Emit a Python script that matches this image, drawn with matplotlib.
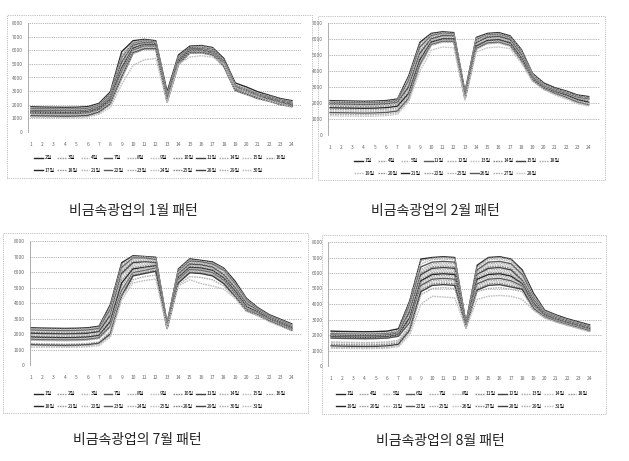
import matplotlib
matplotlib.use("Agg")
import matplotlib.pyplot as plt
from matplotlib.patches import Rectangle

plt.rcParams['font.family'] = ['Noto Sans CJK KR', 'DejaVu Sans']

hours = list(range(1, 25))

# --- January ---
jan_days = [2, 3, 4, 7, 8, 9, 10, 11, 14, 15, 16, 17, 18, 21, 22, 23, 24, 25, 28, 29, 30]
jan_load = [
    [1850, 1830, 1820, 1810, 1820, 1860, 2100, 2950, 5900, 6700, 6800, 6700, 2950, 5650, 6300, 6350, 6200, 5400, 3600, 3300, 2950, 2700, 2450, 2300],
    [1780, 1760, 1750, 1740, 1750, 1790, 2030, 2850, 5650, 6600, 6750, 6650, 2800, 5550, 6250, 6300, 6150, 5300, 3500, 3200, 2850, 2650, 2400, 2250],
    [1720, 1700, 1690, 1690, 1700, 1740, 1990, 2800, 5500, 6550, 6700, 6600, 2700, 5500, 6200, 6250, 6100, 5250, 3450, 3150, 2800, 2600, 2350, 2200],
    [1700, 1690, 1680, 1670, 1680, 1720, 1960, 2750, 5450, 6500, 6680, 6580, 2650, 5450, 6200, 6200, 6050, 5200, 3400, 3100, 2780, 2580, 2330, 2180],
    [1660, 1650, 1630, 1630, 1640, 1680, 1920, 2700, 5400, 6480, 6650, 6550, 2600, 5400, 6150, 6180, 6000, 5150, 3380, 3080, 2750, 2550, 2300, 2150],
    [1640, 1620, 1610, 1600, 1610, 1650, 1890, 2650, 5300, 6420, 6620, 6530, 2550, 5350, 6120, 6150, 5980, 5100, 3350, 3050, 2720, 2520, 2270, 2120],
    [1600, 1590, 1580, 1570, 1580, 1620, 1860, 2600, 5200, 6380, 6580, 6500, 2520, 5300, 6100, 6120, 5950, 5080, 3320, 3020, 2700, 2500, 2250, 2100],
    [1560, 1550, 1540, 1530, 1540, 1580, 1830, 2560, 5100, 6350, 6550, 6480, 2480, 5280, 6080, 6100, 5920, 5050, 3300, 3000, 2680, 2480, 2230, 2080],
    [1530, 1520, 1510, 1500, 1510, 1550, 1800, 2520, 5000, 6300, 6520, 6450, 2450, 5250, 6050, 6080, 5900, 5020, 3280, 2980, 2660, 2460, 2210, 2060],
    [1500, 1490, 1480, 1470, 1480, 1520, 1770, 2480, 4900, 6250, 6480, 6420, 2420, 5200, 6020, 6050, 5880, 5000, 3250, 2950, 2640, 2440, 2190, 2040],
    [1480, 1470, 1460, 1450, 1460, 1500, 1740, 2440, 4800, 6200, 6450, 6400, 2400, 5180, 6000, 6020, 5850, 4980, 3230, 2930, 2620, 2420, 2170, 2020],
    [1450, 1440, 1430, 1420, 1430, 1470, 1710, 2400, 4700, 6150, 6420, 6380, 2380, 5150, 5980, 6000, 5820, 4960, 3200, 2900, 2600, 2400, 2150, 2000],
    [1420, 1410, 1400, 1390, 1400, 1440, 1680, 2350, 4600, 6100, 6380, 6350, 2350, 5100, 5950, 5980, 5800, 4940, 3180, 2880, 2580, 2380, 2130, 1980],
    [1390, 1380, 1370, 1360, 1370, 1410, 1650, 2300, 4500, 6050, 6350, 6320, 2320, 5080, 5920, 5950, 5780, 4920, 3150, 2860, 2560, 2360, 2110, 1960],
    [1360, 1350, 1340, 1330, 1340, 1380, 1620, 2250, 4400, 6000, 6300, 6280, 2300, 5050, 5900, 5920, 5750, 4900, 3130, 2840, 2540, 2340, 2090, 1940],
    [1320, 1310, 1300, 1290, 1300, 1340, 1580, 2200, 4300, 5950, 6250, 6250, 2280, 5020, 5880, 5900, 5720, 4880, 3100, 2820, 2520, 2320, 2070, 1920],
    [1280, 1270, 1260, 1250, 1260, 1300, 1540, 2150, 4200, 5900, 6200, 6200, 2250, 5000, 5850, 5880, 5700, 4860, 3080, 2800, 2500, 2300, 2050, 1900],
    [1230, 1220, 1210, 1200, 1210, 1250, 1500, 2100, 4100, 5850, 6150, 6150, 2230, 4980, 5820, 5850, 5680, 4840, 3060, 2780, 2480, 2280, 2030, 1880],
    [1180, 1170, 1160, 1150, 1160, 1200, 1450, 2050, 4000, 5800, 6100, 6100, 2200, 4950, 5800, 5820, 5650, 4820, 3040, 2760, 2460, 2260, 2010, 1860],
    [1120, 1110, 1100, 1090, 1100, 1140, 1400, 2000, 3900, 5750, 6050, 6050, 2180, 4920, 5780, 5800, 5620, 4800, 3020, 2740, 2440, 2240, 1990, 1840],
    [1080, 1070, 1060, 1050, 1060, 1100, 1300, 1800, 3500, 4900, 5300, 5400, 2150, 5000, 5500, 5600, 5500, 5000, 3250, 2900, 2600, 2300, 2100, 1800],
]

# --- February ---
feb_days = [1, 4, 5, 11, 12, 13, 14, 15, 18, 19, 20, 21, 22, 25, 26, 27, 28]
feb_load = [
    [2150, 2130, 2120, 2110, 2120, 2150, 2250, 3700, 5800, 6350, 6450, 6400, 2700, 6100, 6350, 6400, 6200, 5350, 3850, 3250, 2950, 2750, 2500, 2400],
    [2100, 2080, 2070, 2060, 2070, 2100, 2200, 3600, 5700, 6300, 6400, 6350, 2600, 6050, 6300, 6350, 6150, 5300, 3800, 3200, 2900, 2700, 2450, 2350],
    [2060, 2050, 2040, 2030, 2040, 2070, 2170, 3500, 5600, 6250, 6380, 6330, 2550, 6000, 6280, 6300, 6100, 5250, 3750, 3150, 2870, 2680, 2430, 2330],
    [2030, 2020, 2010, 2000, 2010, 2040, 2140, 3400, 5500, 6200, 6350, 6300, 2500, 5950, 6250, 6280, 6080, 5200, 3700, 3120, 2850, 2650, 2400, 2300],
    [2000, 1990, 1980, 1970, 1980, 2010, 2110, 3300, 5400, 6150, 6320, 6280, 2480, 5900, 6220, 6250, 6050, 5150, 3680, 3100, 2830, 2630, 2380, 2280],
    [1980, 1970, 1960, 1950, 1960, 1990, 2080, 3200, 5300, 6100, 6300, 6250, 2450, 5850, 6200, 6230, 6020, 5100, 3650, 3080, 2810, 2610, 2360, 2260],
    [1950, 1940, 1930, 1920, 1930, 1960, 2050, 3100, 5200, 6050, 6250, 6220, 2420, 5800, 6150, 6200, 6000, 5050, 3620, 3050, 2790, 2590, 2340, 2240],
    [1920, 1910, 1900, 1890, 1900, 1930, 2020, 3000, 5100, 6000, 6200, 6180, 2400, 5750, 6100, 6150, 5950, 5000, 3600, 3020, 2770, 2570, 2320, 2220],
    [1900, 1880, 1870, 1860, 1870, 1900, 1990, 2900, 5000, 5950, 6150, 6150, 2380, 5700, 6050, 6100, 5900, 4950, 3570, 3000, 2750, 2550, 2300, 2200],
    [1870, 1850, 1840, 1830, 1840, 1870, 1960, 2800, 4900, 5900, 6100, 6100, 2350, 5650, 6000, 6050, 5850, 4900, 3550, 2980, 2730, 2530, 2280, 2180],
    [1800, 1790, 1780, 1770, 1780, 1810, 1900, 2700, 4800, 5850, 6050, 6050, 2330, 5600, 5950, 6000, 5800, 4850, 3520, 2960, 2710, 2510, 2260, 2120],
    [1700, 1690, 1680, 1670, 1680, 1710, 1800, 2600, 4700, 5800, 6000, 6000, 2300, 5550, 5900, 5950, 5750, 4800, 3500, 2940, 2690, 2490, 2200, 2050],
    [1600, 1590, 1580, 1570, 1580, 1610, 1700, 2500, 4600, 5750, 5950, 5950, 2280, 5500, 5850, 5900, 5700, 4750, 3480, 2920, 2670, 2450, 2150, 1980],
    [1500, 1490, 1480, 1470, 1480, 1510, 1600, 2400, 4500, 5700, 5900, 5900, 2250, 5450, 5800, 5850, 5650, 4700, 3450, 2900, 2650, 2400, 2100, 1920],
    [1400, 1390, 1380, 1370, 1380, 1410, 1500, 2300, 4400, 5650, 5850, 5850, 2230, 5400, 5750, 5800, 5600, 4650, 3420, 2880, 2600, 2350, 2050, 1880],
    [1300, 1290, 1280, 1270, 1280, 1310, 1400, 2200, 4300, 5600, 5800, 5800, 2200, 5350, 5700, 5750, 5550, 4600, 3400, 2860, 2550, 2300, 2000, 1850],
    [1200, 1190, 1180, 1170, 1180, 1210, 1300, 2100, 4000, 5300, 5500, 5450, 2180, 5200, 5450, 5500, 5400, 4500, 3350, 2840, 2500, 2250, 1950, 1800],
]

# --- July ---
jul_days = [1, 2, 3, 7, 8, 9, 10, 11, 14, 15, 16, 18, 21, 22, 23, 24, 25, 28, 29, 30, 31]
jul_load = [
    [2400, 2380, 2370, 2360, 2370, 2400, 2500, 3900, 6600, 7050, 7000, 6950, 2700, 6200, 6850, 6750, 6650, 6250, 5400, 4300, 3700, 3250, 2950, 2650],
    [2350, 2330, 2320, 2310, 2320, 2350, 2450, 3800, 6500, 7000, 6980, 6900, 2650, 6150, 6800, 6700, 6600, 6200, 5300, 4250, 3650, 3200, 2900, 2600],
    [2300, 2280, 2270, 2260, 2270, 2300, 2400, 3700, 6400, 6950, 6950, 6850, 2620, 6100, 6750, 6680, 6550, 6150, 5250, 4200, 3620, 3180, 2880, 2580],
    [2250, 2230, 2220, 2210, 2220, 2250, 2350, 3600, 6300, 6900, 6900, 6800, 2600, 6050, 6700, 6650, 6500, 6100, 5200, 4150, 3600, 3150, 2850, 2550],
    [2200, 2180, 2170, 2160, 2170, 2200, 2300, 3500, 6200, 6850, 6850, 6750, 2580, 6000, 6650, 6600, 6450, 6050, 5150, 4100, 3570, 3130, 2830, 2530],
    [2150, 2130, 2120, 2110, 2120, 2150, 2250, 3400, 6100, 6800, 6800, 6700, 2560, 5950, 6600, 6550, 6400, 6000, 5100, 4050, 3550, 3100, 2800, 2500],
    [2100, 2080, 2070, 2060, 2070, 2100, 2200, 3300, 6000, 6700, 6700, 6650, 2540, 5900, 6550, 6500, 6350, 5900, 5000, 4000, 3520, 3080, 2780, 2480],
    [2050, 2030, 2020, 2010, 2020, 2050, 2150, 3200, 5900, 6600, 6650, 6600, 2520, 5850, 6500, 6450, 6300, 5800, 4950, 3950, 3500, 3060, 2760, 2460],
    [1950, 1930, 1920, 1910, 1920, 1950, 2050, 3100, 5800, 6500, 6600, 6550, 2500, 5800, 6450, 6400, 6250, 5750, 4900, 3900, 3470, 3040, 2740, 2440],
    [1900, 1880, 1870, 1860, 1870, 1900, 2000, 3000, 5700, 6400, 6500, 6500, 2480, 5750, 6400, 6350, 6200, 5700, 4850, 3850, 3450, 3020, 2720, 2420],
    [1850, 1830, 1820, 1810, 1820, 1850, 1950, 2900, 5500, 6300, 6400, 6450, 2460, 5700, 6350, 6300, 6150, 5650, 4800, 3800, 3420, 3000, 2700, 2400],
    [1800, 1780, 1770, 1760, 1770, 1800, 1900, 2800, 5300, 6200, 6300, 6400, 2440, 5650, 6300, 6250, 6100, 5600, 4750, 3750, 3400, 2980, 2680, 2380],
    [1750, 1730, 1720, 1710, 1720, 1750, 1850, 2700, 5100, 6100, 6250, 6350, 2420, 5600, 6250, 6200, 6050, 5550, 4700, 3700, 3370, 2960, 2660, 2360],
    [1700, 1680, 1670, 1660, 1670, 1700, 1800, 2600, 4900, 6000, 6200, 6300, 2400, 5550, 6200, 6150, 6000, 5500, 4650, 3650, 3350, 2940, 2640, 2340],
    [1650, 1630, 1620, 1610, 1620, 1650, 1750, 2500, 4800, 5950, 6100, 6250, 2400, 5500, 6150, 6100, 5950, 5450, 4600, 3600, 3320, 2920, 2620, 2320],
    [1600, 1580, 1570, 1560, 1570, 1600, 1700, 2400, 4700, 5900, 6050, 6200, 2380, 5450, 6100, 6050, 5900, 5400, 4550, 3580, 3300, 2900, 2600, 2300],
    [1400, 1380, 1370, 1360, 1370, 1400, 1500, 2200, 4600, 5850, 6000, 6150, 2380, 5400, 6050, 6000, 5850, 5350, 4500, 3550, 3270, 2880, 2580, 2280],
    [1350, 1330, 1320, 1310, 1320, 1350, 1450, 2100, 4500, 5800, 5950, 6100, 2360, 5350, 6000, 5950, 5800, 5300, 4450, 3520, 3250, 2860, 2560, 2260],
    [1300, 1280, 1270, 1260, 1270, 1300, 1400, 2000, 4450, 5750, 5900, 6050, 2350, 5300, 5950, 5900, 5750, 5250, 4400, 3500, 3220, 2840, 2540, 2240],
    [1250, 1230, 1220, 1210, 1220, 1250, 1350, 1900, 4400, 5500, 5700, 5800, 2340, 5200, 5700, 5650, 5500, 5100, 4350, 3480, 3200, 2820, 2520, 2220],
    [1150, 1150, 1140, 1140, 1150, 1170, 1250, 1800, 4200, 5300, 5450, 5550, 2400, 5100, 5500, 5250, 5100, 4900, 4300, 3450, 3180, 2800, 2500, 2200],
]

# --- August ---
aug_days = [1, 4, 5, 6, 7, 8, 11, 12, 13, 14, 18, 19, 20, 21, 22, 25, 26, 27, 28, 29, 31]
aug_load = [
    [2250, 2230, 2220, 2210, 2220, 2250, 2400, 4200, 6900, 7000, 7050, 7000, 2800, 6500, 7000, 7050, 6900, 6200, 4700, 3600, 3300, 3050, 2850, 2650],
    [2150, 2130, 2120, 2110, 2120, 2150, 2300, 4100, 6800, 6950, 7000, 6950, 2750, 6400, 6950, 7000, 6850, 6100, 4600, 3550, 3250, 3000, 2800, 2600],
    [2100, 2080, 2070, 2060, 2070, 2100, 2250, 4000, 6600, 6850, 6900, 6850, 2700, 6300, 6850, 6900, 6750, 6000, 4500, 3500, 3200, 2980, 2780, 2580],
    [2080, 2060, 2050, 2040, 2050, 2080, 2200, 3900, 6400, 6700, 6750, 6700, 2680, 6200, 6700, 6750, 6600, 5900, 4450, 3450, 3180, 2960, 2760, 2560],
    [2050, 2030, 2020, 2010, 2020, 2050, 2180, 3800, 6200, 6600, 6650, 6600, 2650, 6100, 6600, 6650, 6500, 5800, 4400, 3420, 3150, 2940, 2740, 2540],
    [2020, 2000, 1990, 1980, 1990, 2020, 2150, 3700, 6100, 6500, 6550, 6500, 2630, 6000, 6500, 6550, 6400, 5700, 4350, 3400, 3130, 2920, 2720, 2520],
    [2000, 1980, 1970, 1960, 1970, 2000, 2120, 3600, 6000, 6400, 6450, 6400, 2600, 5950, 6400, 6450, 6300, 5600, 4300, 3380, 3110, 2900, 2700, 2500],
    [1980, 1960, 1950, 1940, 1950, 1980, 2100, 3500, 5900, 6300, 6350, 6300, 2580, 5900, 6300, 6350, 6200, 5500, 4250, 3360, 3090, 2880, 2680, 2480],
    [1950, 1930, 1920, 1910, 1920, 1950, 2080, 3400, 5800, 6200, 6250, 6200, 2560, 5850, 6200, 6250, 6100, 5450, 4200, 3340, 3070, 2860, 2660, 2460],
    [1920, 1900, 1890, 1880, 1890, 1920, 2050, 3300, 5700, 6100, 6150, 6100, 2550, 5800, 6100, 6150, 6000, 5400, 4150, 3320, 3050, 2840, 2640, 2440],
    [1900, 1880, 1870, 1860, 1870, 1900, 2020, 3200, 5600, 6000, 6050, 6000, 2540, 5700, 6000, 6050, 5900, 5350, 4100, 3300, 3030, 2820, 2620, 2420],
    [1880, 1860, 1850, 1840, 1850, 1880, 2000, 3100, 5500, 5900, 5950, 5900, 2530, 5600, 5900, 5950, 5800, 5300, 4050, 3280, 3010, 2800, 2600, 2400],
    [1850, 1830, 1820, 1810, 1820, 1850, 1970, 3000, 5400, 5800, 5850, 5800, 2520, 5500, 5800, 5850, 5700, 5250, 4000, 3260, 2990, 2780, 2580, 2380],
    [1820, 1800, 1790, 1780, 1790, 1820, 1940, 2900, 5300, 5700, 5750, 5700, 2510, 5400, 5700, 5750, 5600, 5200, 3950, 3240, 2970, 2760, 2560, 2360],
    [1800, 1780, 1770, 1760, 1770, 1800, 1920, 2800, 5200, 5600, 5650, 5600, 2500, 5300, 5600, 5650, 5500, 5150, 3900, 3220, 2950, 2740, 2540, 2340],
    [1550, 1530, 1520, 1510, 1520, 1550, 1650, 2600, 5100, 5500, 5550, 5500, 2490, 5200, 5500, 5550, 5400, 5100, 3850, 3200, 2930, 2720, 2520, 2320],
    [1500, 1480, 1470, 1460, 1470, 1500, 1600, 2500, 5000, 5400, 5450, 5400, 2480, 5100, 5400, 5450, 5300, 5050, 3800, 3180, 2910, 2700, 2500, 2300],
    [1400, 1380, 1370, 1360, 1370, 1400, 1500, 2400, 4900, 5300, 5350, 5300, 2470, 5000, 5300, 5350, 5200, 5000, 3750, 3160, 2890, 2680, 2480, 2280],
    [1300, 1280, 1270, 1260, 1270, 1300, 1400, 2300, 4800, 5200, 5250, 5200, 2460, 4900, 5200, 5250, 5100, 4950, 3700, 3140, 2870, 2660, 2460, 2260],
    [1200, 1190, 1180, 1170, 1180, 1200, 1300, 2200, 4600, 5000, 5050, 5000, 2450, 4800, 5000, 5050, 4950, 4800, 3650, 3120, 2850, 2640, 2440, 2240],
    [1150, 1140, 1130, 1120, 1130, 1150, 1250, 2000, 4000, 4500, 4450, 4400, 2450, 4300, 4500, 4550, 4500, 4300, 3600, 3100, 2830, 2620, 2420, 2200],
]

captions = ['비금속광업의 1월 패턴', '비금속광업의 2월 패턴',
            '비금속광업의 7월 패턴', '비금속광업의 8월 패턴']

W, H = 629, 461
fig = plt.figure(figsize=(W / 100, H / 100), dpi=100)

# scanned greyscale look: a few dark solid lines among light stippled ones
grays = ['#262626', '#a0a0a0', '#b8b8b8', '#5a5a5a', '#acacac', '#c4c4c4',
         '#8c8c8c', '#404040', '#b0b0b0', '#c0c0c0', '#969696']
stipple = (0, (1.2, 0.6))
dot = (0, (1, 1.2))


def fig_rect(l, t, r, b):
    # pixel box (left, top, right, bottom) -> figure fraction
    return [l / W, 1 - b / H, (r - l) / W, (b - t) / H]


def draw_panel(days, load, ymax, box, axbox, xlim, leg_xy, ncol, caption, cap_xy):
    x0, y0, w, h = fig_rect(*box)
    fig.patches.append(Rectangle((x0, y0), w, h, transform=fig.transFigure,
                                 fill=False, ec='#aaaaaa', lw=0.6, ls=dot))
    ax = fig.add_axes(fig_rect(*axbox))
    handles = []
    for i, (d, vals) in enumerate(zip(days, load)):
        c = grays[i % len(grays)]
        ls = '-' if c < '#6' else stipple
        ln, = ax.plot(hours, vals, color=c, lw=1.0, ls=ls, label=f'{d}일')
        handles.append(ln)
    ax.set_xlim(*xlim)
    ax.set_ylim(0, ymax)
    ax.set_yticks(range(0, ymax + 1, 1000))
    ax.set_xticks(hours)
    ax.tick_params(axis='y', length=0, labelsize=3.5, labelcolor='#666666', pad=4)
    ax.tick_params(axis='x', length=0, labelsize=3.5, labelcolor='#666666', pad=7)
    ax.grid(axis='y', color='#999999', lw=0.6, ls=dot)
    for s in ['top', 'right', 'bottom']:
        ax.spines[s].set_visible(False)
    ax.spines['left'].set_linestyle(dot)
    ax.spines['left'].set_color('#999999')
    ax.spines['left'].set_linewidth(0.6)
    # legend filled row by row (matplotlib fills columns first)
    n = len(handles)
    order = []
    for j in range(ncol):
        order.append(j)
        if j + ncol < n:
            order.append(j + ncol)
    ax.legend([handles[k] for k in order], [handles[k].get_label() for k in order],
              loc='center', bbox_to_anchor=(leg_xy[0] / W, 1 - leg_xy[1] / H),
              bbox_transform=fig.transFigure, ncol=ncol, fontsize=3.5,
              frameon=False, handlelength=1.8, handletextpad=0.3,
              columnspacing=0.6, labelspacing=1.5)
    fig.text(cap_xy[0] / W, 1 - cap_xy[1] / H, caption, ha='center',
             va='center', fontsize=10, color='#222222')


draw_panel(jan_days, jan_load, 8000, (7, 15, 312, 178), (28, 23, 301, 132),
           (0.74, 24.8), (160, 164), 11, captions[0], (133, 211))
draw_panel(feb_days, feb_load, 7000, (318, 16, 605, 180), (328, 23, 600, 135),
           (0.82, 25.0), (457, 167), 9, captions[1], (435, 211))
draw_panel(jul_days, jul_load, 8000, (3, 233, 308, 413), (30, 241, 302, 365),
           (0.91, 24.9), (160, 400), 11, captions[2], (137, 440))
draw_panel(aug_days, aug_load, 8000, (322, 235, 606, 414), (328, 242, 602, 366),
           (0.73, 25.1), (462, 400), 11, captions[3], (440, 441))

fig.savefig('out.png', dpi=100)
